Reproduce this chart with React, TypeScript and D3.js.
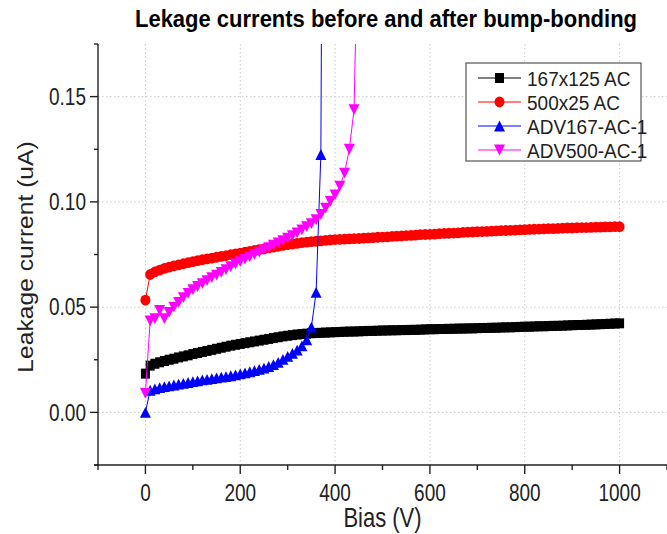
import React from "react";
import * as d3 from "d3";

// ---- Data (leakage current in uA, bias step 10 V starting at 0 V) ----
const seriesNames = ["167x125 AC", "500x25 AC", "ADV167-AC-1", "ADV500-AC-1"];
const biasStep = 10;

const black167 = [
  0.0184, 0.0222, 0.0231, 0.0238, 0.0244, 0.0250, 0.0255, 0.0261, 0.0266, 0.0271,
  0.0277, 0.0282, 0.0287, 0.0292, 0.0297, 0.0302, 0.0307, 0.0312, 0.0317, 0.0321,
  0.0325, 0.0329, 0.0333, 0.0337, 0.0341, 0.0345, 0.0349, 0.0353, 0.0357, 0.0361,
  0.0364, 0.0367, 0.0370, 0.0372, 0.0374, 0.0376, 0.0377, 0.0378, 0.0379, 0.0380,
  0.0381, 0.0382, 0.0383, 0.0384, 0.0384, 0.0385, 0.0386, 0.0387, 0.0387, 0.0388,
  0.0389, 0.0389, 0.0390, 0.0390, 0.0391, 0.0391, 0.0392, 0.0392, 0.0393, 0.0394,
  0.0395, 0.0395, 0.0396, 0.0396, 0.0397, 0.0397, 0.0398, 0.0398, 0.0399, 0.0399,
  0.0400, 0.0401, 0.0401, 0.0402, 0.0402, 0.0403, 0.0404, 0.0404, 0.0405, 0.0406,
  0.0407, 0.0407, 0.0408, 0.0409, 0.0409, 0.0410, 0.0411, 0.0411, 0.0412, 0.0413,
  0.0414, 0.0415, 0.0415, 0.0416, 0.0417, 0.0418, 0.0419, 0.0420, 0.0421, 0.0422,
  0.0423,
];

const red500 = [
  0.0533, 0.0655, 0.0667, 0.0676, 0.0684, 0.0690, 0.0696, 0.0701, 0.0706, 0.0711,
  0.0716, 0.0721, 0.0725, 0.0729, 0.0733, 0.0737, 0.0741, 0.0745, 0.0749, 0.0753,
  0.0757, 0.0761, 0.0765, 0.0769, 0.0773, 0.0777, 0.0781, 0.0785, 0.0789, 0.0793,
  0.0797, 0.0800, 0.0803, 0.0806, 0.0809, 0.0811, 0.0813, 0.0815, 0.0817, 0.0819,
  0.0821, 0.0822, 0.0823, 0.0824, 0.0825, 0.0826, 0.0828, 0.0829, 0.0830, 0.0832,
  0.0833, 0.0834, 0.0836, 0.0837, 0.0838, 0.0840, 0.0841, 0.0842, 0.0844, 0.0845,
  0.0846, 0.0847, 0.0849, 0.0850, 0.0851, 0.0852, 0.0853, 0.0855, 0.0856, 0.0857,
  0.0858, 0.0859, 0.0860, 0.0861, 0.0862, 0.0863, 0.0864, 0.0865, 0.0866, 0.0867,
  0.0868, 0.0869, 0.0870, 0.0871, 0.0872, 0.0873, 0.0873, 0.0874, 0.0875, 0.0876,
  0.0876, 0.0877, 0.0878, 0.0878, 0.0879, 0.0880, 0.0880, 0.0881, 0.0881, 0.0882,
  0.0882,
];

const blueADV167 = [
  0.0000, 0.0105, 0.0112, 0.0118, 0.0122, 0.0126, 0.0130, 0.0134, 0.0138, 0.0142,
  0.0146, 0.0150, 0.0154, 0.0157, 0.0160, 0.0164, 0.0167, 0.0170, 0.0174, 0.0178,
  0.0183, 0.0188, 0.0193, 0.0198, 0.0204, 0.0210, 0.0218, 0.0227, 0.0238, 0.0252,
  0.0266, 0.0280, 0.0296, 0.0316, 0.0345, 0.0405, 0.0570, 0.1225, 0.6000,
];

const magentaADV500 = [
  0.0090, 0.0435, 0.0445, 0.0485, 0.0445, 0.0475, 0.0500, 0.0522, 0.0545, 0.0565,
  0.0583, 0.0598, 0.0612, 0.0626, 0.0640, 0.0652, 0.0665, 0.0678, 0.0692, 0.0705,
  0.0716, 0.0728, 0.0739, 0.0750, 0.0761, 0.0772, 0.0783, 0.0794, 0.0805, 0.0816,
  0.0828, 0.0840, 0.0853, 0.0867, 0.0882, 0.0897, 0.0915, 0.0940, 0.0970, 0.1002,
  0.1033, 0.1075, 0.1137, 0.1250, 0.1438, 0.2500,
];

const xMajorTicks = [0, 200, 400, 600, 800, 1000];
const xMinorTicks = [-100, 100, 300, 500, 700, 900, 1100];
const yMajorTicks = [0, 0.05, 0.1, 0.15];
const yMinorTicks = [-0.025, 0.025, 0.075, 0.125, 0.175];

const colors = ["#000000", "#ff0000", "#0000ff", "#ff00ff"];
const shapes = ["square", "circle", "triUp", "triDown"];

const FONT = "'Liberation Sans', Arial, Helvetica, sans-serif";

function markerPath(shape: string, cx: number, cy: number): string {
  switch (shape) {
    case "square": {
      const hw = 4.5, hh = 5;
      return `M${cx - hw},${cy - hh}H${cx + hw}V${cy + hh}H${cx - hw}Z`;
    }
    case "circle": {
      const rx = 5, ry = 5.4;
      return `M${cx - rx},${cy}a${rx},${ry} 0 1,0 ${2 * rx},0a${rx},${ry} 0 1,0 ${-2 * rx},0Z`;
    }
    case "triUp": {
      const w = 5.5, h = 5.4;
      return `M${cx},${cy - h}L${cx + w},${cy + h}L${cx - w},${cy + h}Z`;
    }
    default: {
      const w = 5.5, h = 5.4;
      return `M${cx},${cy + h}L${cx + w},${cy - h}L${cx - w},${cy - h}Z`;
    }
  }
}

export default function App() {
  const W = 667, H = 534;
  const x = d3.scaleLinear().domain([-100, 1100]).range([98, 667]);
  const y = d3.scaleLinear().domain([-0.025, 0.175]).range([465, 44]);
  const [x0, x1] = x.range();
  const [yb, yt] = y.range();

  const allSeries = [black167, red500, blueADV167, magentaADV500].map((vals, i) => ({
    name: seriesNames[i],
    color: colors[i],
    shape: shapes[i],
    points: vals.map((v, j) => ({ bias: j * biasStep, val: v })),
  }));

  const line = d3
    .line<{ bias: number; val: number }>()
    .x((d) => x(d.bias))
    .y((d) => y(d.val));

  const legendRows = [78, 102, 126, 150];

  return (
    <div style={{ position: "fixed", left: 0, top: 0 }}>
      <svg width={W} height={H} style={{ display: "block", background: "#fff" }}>
        <defs>
          <clipPath id="plotClip">
            <rect x={x0} y={yt} width={x1 - x0} height={yb - yt} />
          </clipPath>
        </defs>
        <rect x={0} y={0} width={W} height={H} fill="#fff" />

        {/* grid */}
        <g stroke="#c8c8c8" strokeWidth={1} strokeDasharray="1.5,2.5">
          {xMajorTicks.map((t) => (
            <line key={"gx" + t} x1={x(t)} x2={x(t)} y1={yt} y2={yb} />
          ))}
          {yMajorTicks.map((t) => (
            <line key={"gy" + t} x1={x0} x2={x1} y1={y(t)} y2={y(t)} />
          ))}
        </g>

        {/* series */}
        <g clipPath="url(#plotClip)">
          {allSeries.map((s) => (
            <g key={s.name}>
              <path d={line(s.points) || ""} fill="none" stroke={s.color} strokeWidth={1} />
              {s.points.map((p, j) => (
                <path key={j} d={markerPath(s.shape, x(p.bias), y(p.val))} fill={s.color} />
              ))}
            </g>
          ))}
        </g>

        {/* axes */}
        <g stroke="#222" strokeWidth={1.4}>
          <line x1={x0} x2={x0} y1={yt} y2={yb + 0.7} />
          <line x1={x0 - 4} x2={x1} y1={yb} y2={yb} />
          {xMajorTicks.map((t) => (
            <line key={"xt" + t} x1={x(t)} x2={x(t)} y1={yb} y2={yb + 9} />
          ))}
          {xMinorTicks.map((t) => (
            <line key={"xm" + t} x1={x(t)} x2={x(t)} y1={yb} y2={yb + 5} />
          ))}
          {yMajorTicks.map((t) => (
            <line key={"yt" + t} x1={x0 - 8} x2={x0} y1={y(t)} y2={y(t)} />
          ))}
          {yMinorTicks.map((t) => (
            <line key={"ym" + t} x1={x0 - 4} x2={x0} y1={y(t)} y2={y(t)} />
          ))}
        </g>

        {/* tick labels */}
        <g fontFamily={FONT} fontSize={19} fill="#222">
          {xMajorTicks.map((t) => (
            <text
              key={"xl" + t}
              textAnchor="middle"
              transform={`translate(${x(t)},${501}) scale(1,1.22)`}
            >
              {d3.format("d")(t)}
            </text>
          ))}
          {yMajorTicks.map((t) => (
            <text
              key={"yl" + t}
              textAnchor="end"
              dy="0.36em"
              transform={`translate(${86},${y(t)}) scale(1,1.22)`}
            >
              {d3.format(".2f")(t)}
            </text>
          ))}
        </g>

        {/* axis titles */}
        <text
          fontFamily={FONT}
          fontSize={22}
          fill="#222"
          textAnchor="middle"
          transform={`translate(${(x0 + x1) / 2},${527}) scale(1,1.25)`}
        >
          Bias (V)
        </text>
        <text
          fontFamily={FONT}
          fontSize={22}
          fill="#222"
          textAnchor="middle"
          transform={`translate(${33},${257}) rotate(-90) scale(1.12,1)`}
        >
          Leakage current (uA)
        </text>

        {/* title */}
        <text
          fontFamily={FONT}
          fontSize={22}
          fontWeight="bold"
          fill="#000"
          textAnchor="middle"
          transform={`translate(${386},${27}) scale(1,1.1)`}
        >
          Lekage currents before and after bump-bonding
        </text>

        {/* legend */}
        <rect x={466} y={63} width={175} height={98} fill="#fff" stroke="#333" strokeWidth={1} />
        {allSeries.map((s, i) => (
          <g key={"lg" + s.name}>
            <line x1={478} x2={521} y1={legendRows[i]} y2={legendRows[i]} stroke={s.color} strokeWidth={1} />
            <path d={markerPath(s.shape, 499.5, legendRows[i])} fill={s.color} />
            <text
              fontFamily={FONT}
              fontSize={19}
              fill="#222"
              dy="0.36em"
              transform={`translate(${527},${legendRows[i]}) scale(1,1.1)`}
            >
              {s.name}
            </text>
          </g>
        ))}
      </svg>
    </div>
  );
}
